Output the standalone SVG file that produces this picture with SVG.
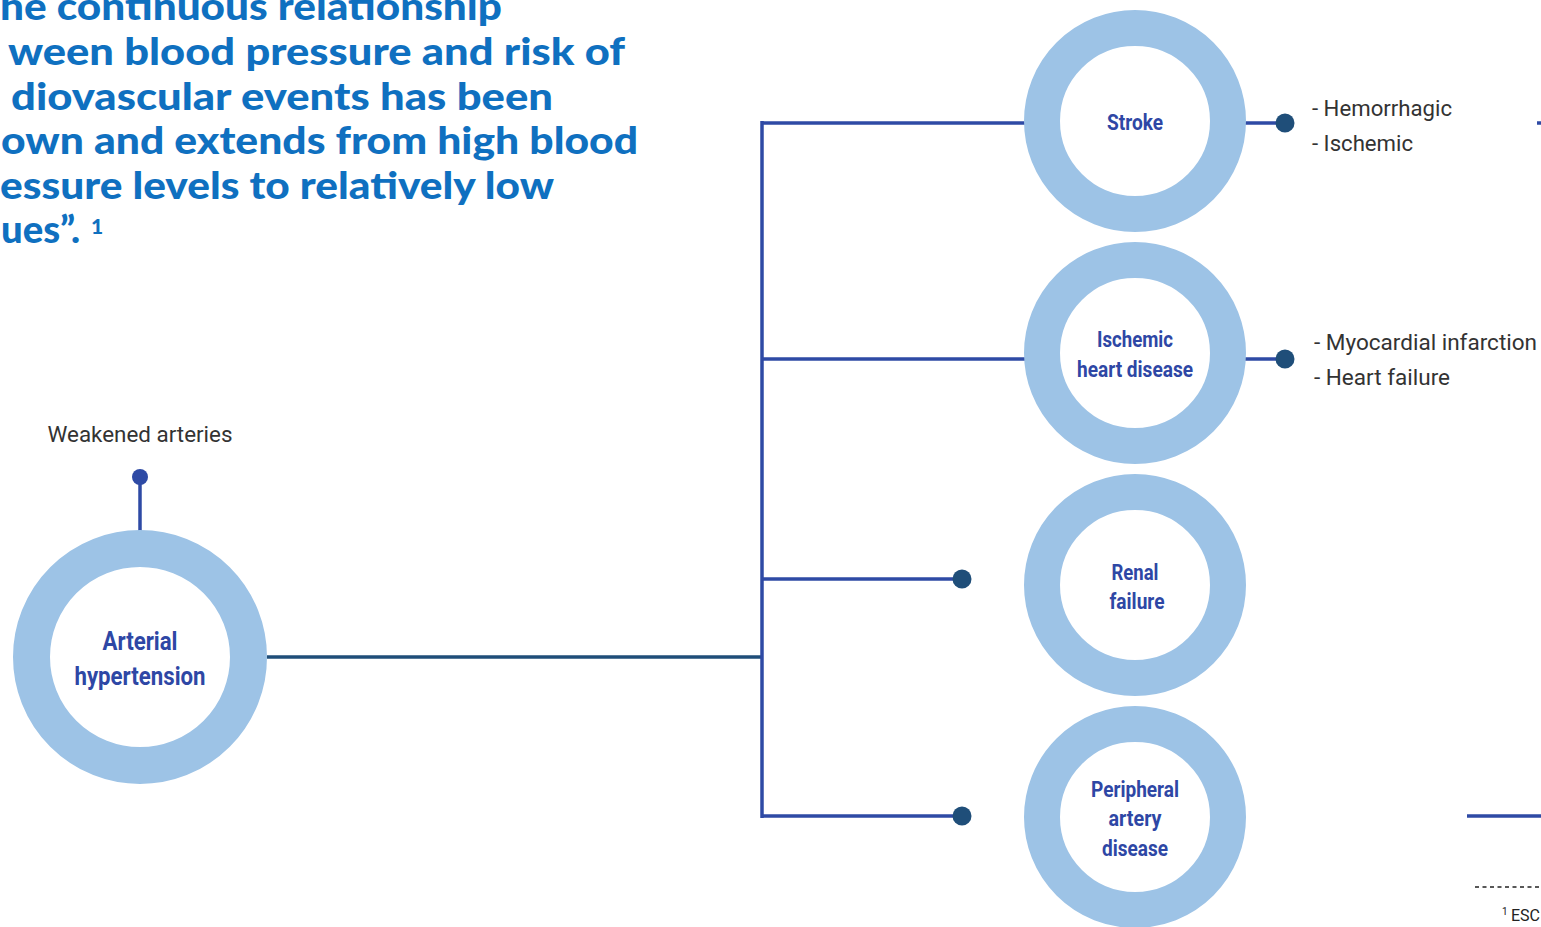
<svg xmlns="http://www.w3.org/2000/svg" width="1541" height="927" viewBox="0 0 1541 927">
<style>
.head{font-family:Lato,"Open Sans",sans-serif;font-weight:900;font-size:38px;fill:#0f70c0}
.ring{fill:#fff;stroke:#9dc3e6}
.node{font-family:Roboto,"Liberation Sans",sans-serif;font-weight:700;fill:#2e47a5;text-anchor:middle}
.lbl{font-family:Roboto,"Liberation Sans",sans-serif;font-size:22.5px;fill:#333}
.blue{stroke:#2e4aa5;stroke-width:3.5;fill:none}
.dark{stroke:#1f4e79;stroke-width:3.5;fill:none}
.dot{fill:#1f4e79}
</style>
<rect width="1541" height="927" fill="#fff"/>
<g id="headline">
<text class="head" x="0" y="20" textLength="502" lengthAdjust="spacingAndGlyphs">he continuous relationship</text>
<text class="head" x="8" y="65" textLength="617" lengthAdjust="spacingAndGlyphs">ween blood pressure and risk of</text>
<text class="head" x="11" y="110" textLength="542" lengthAdjust="spacingAndGlyphs">diovascular events has been</text>
<text class="head" x="1" y="154" textLength="637" lengthAdjust="spacingAndGlyphs">own and extends from high blood</text>
<text class="head" x="0" y="199" textLength="554" lengthAdjust="spacingAndGlyphs">essure levels to relatively low</text>
<text class="head" x="1" y="243" textLength="79" lengthAdjust="spacingAndGlyphs">ues”.</text>
<text x="91" y="234" style="font-family:Lato,sans-serif;font-weight:900;font-size:21px;fill:#0f70c0">1</text>
</g>
<g id="connectors">
<line class="dark" x1="267" y1="657" x2="762" y2="657"/>
<line class="blue" x1="762" y1="121" x2="762" y2="818"/>
<line class="blue" x1="762" y1="123" x2="1025" y2="123"/>
<line class="blue" x1="762" y1="359" x2="1025" y2="359"/>
<line class="blue" x1="762" y1="579" x2="962" y2="579"/>
<line class="blue" x1="762" y1="816" x2="962" y2="816"/>
<circle class="dot" cx="962" cy="579" r="9.5"/>
<circle class="dot" cx="962" cy="816" r="9.5"/>
<line class="blue" x1="1245" y1="123" x2="1285" y2="123"/>
<circle class="dot" cx="1285" cy="123" r="9.5"/>
<line class="blue" x1="1245" y1="359" x2="1285" y2="359"/>
<circle class="dot" cx="1285" cy="359" r="9.5"/>
<line class="blue" x1="140" y1="477" x2="140" y2="532"/>
<circle cx="140" cy="477" r="8" fill="#2e4aa5"/>
<line class="blue" x1="1537" y1="123" x2="1541" y2="123"/>
<line class="blue" x1="1467" y1="816" x2="1541" y2="816"/>
<line x1="1475" y1="887" x2="1541" y2="887" stroke="#222" stroke-width="1.5" stroke-dasharray="4,3.5"/>
</g>
<g id="arterial-hypertension">
<circle class="ring" cx="140" cy="657" r="108.5" stroke-width="37"/>
<text class="node" x="140" y="650" font-size="25" textLength="75" lengthAdjust="spacingAndGlyphs">Arterial</text>
<text class="node" x="140" y="685" font-size="25" textLength="131" lengthAdjust="spacingAndGlyphs">hypertension</text>
</g>
<g id="weakened-arteries">
<text class="lbl" x="140" y="442" text-anchor="middle" textLength="185" lengthAdjust="spacingAndGlyphs">Weakened arteries</text>
</g>
<g id="stroke">
<circle class="ring" cx="1135" cy="121" r="93" stroke-width="36"/>
<text class="node" x="1135" y="130" font-size="22" textLength="56" lengthAdjust="spacingAndGlyphs">Stroke</text>
</g>
<g id="stroke-types">
<text class="lbl" x="1312" y="116" textLength="140" lengthAdjust="spacingAndGlyphs">- Hemorrhagic</text>
<text class="lbl" x="1312" y="151" textLength="101" lengthAdjust="spacingAndGlyphs">- Ischemic</text>
</g>
<g id="ischemic-heart-disease">
<circle class="ring" cx="1135" cy="353" r="93" stroke-width="36"/>
<text class="node" x="1135" y="347" font-size="22" textLength="76" lengthAdjust="spacingAndGlyphs">Ischemic</text>
<text class="node" x="1135" y="377" font-size="22" textLength="116" lengthAdjust="spacingAndGlyphs">heart disease</text>
</g>
<g id="heart-types">
<text class="lbl" x="1314" y="350" textLength="223" lengthAdjust="spacingAndGlyphs">- Myocardial infarction</text>
<text class="lbl" x="1314" y="385" textLength="136" lengthAdjust="spacingAndGlyphs">- Heart failure</text>
</g>
<g id="renal-failure">
<circle class="ring" cx="1135" cy="585" r="93" stroke-width="36"/>
<text class="node" x="1135" y="580" font-size="22" textLength="47" lengthAdjust="spacingAndGlyphs">Renal</text>
<text class="node" x="1137" y="609" font-size="22" textLength="55" lengthAdjust="spacingAndGlyphs">failure</text>
</g>
<g id="peripheral-artery-disease">
<circle class="ring" cx="1135" cy="817" r="93" stroke-width="36"/>
<text class="node" x="1135" y="797" font-size="22" textLength="88" lengthAdjust="spacingAndGlyphs">Peripheral</text>
<text class="node" x="1135" y="826" font-size="22" textLength="53" lengthAdjust="spacingAndGlyphs">artery</text>
<text class="node" x="1135" y="856" font-size="22" textLength="66" lengthAdjust="spacingAndGlyphs">disease</text>
</g>
<g id="footnote">
<text x="1502" y="921" style="font-family:Roboto,'Liberation Sans',sans-serif;font-size:16px;fill:#222"><tspan font-size="10" dy="-6">1</tspan><tspan dy="6" x="1511">ESC</tspan></text>
</g>
</svg>
